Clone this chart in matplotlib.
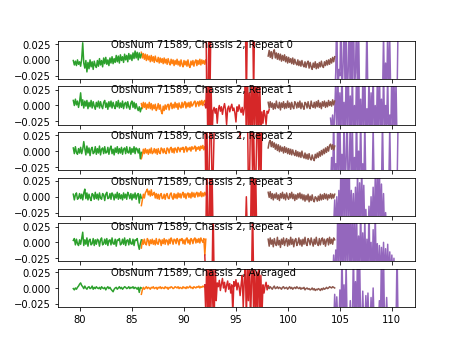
import numpy as np
import matplotlib
matplotlib.use("Agg")
import matplotlib.pyplot as plt

obsnum = 71589
chassis = 2
panel_labels = ["Repeat 0", "Repeat 1", "Repeat 2", "Repeat 3", "Repeat 4", "Averaged"]

# frequency range of each band (GHz)
band_ranges = {
    "green": (79.35, 85.9),
    "orange": (85.9, 92.1),
    "red": (92.0, 98.2),
    "brown": (98.1, 104.5),
    "purple": (104.1, 110.6),
}
band_colors = {"orange": "C1", "green": "C2", "red": "C3", "purple": "C4", "brown": "C5"}
plot_order = ["orange", "green", "red", "purple", "brown"]

# spectra values, in units of 0.001 (K)
green = [
    [-1,-8,-2,-9,0,-7,-3,-10,1,27,-5,-13,-1,-19,-4,-14,0,-11,-3,-15,-2,-9,-12,-1,-10,2,-8,-1,-11,3,-6,4,-7,0,-9,3,-5,5,-6,2,
     -4,7,-3,6,-5,8,-1,5,-4,9,0,7,-3,10,1,8,-1,11,2,14,3,12,0,11,3,9],
    [8,0,10,1,7,-3,6,20,0,9,-4,7,-1,8,-5,5,-2,8,-4,6,-1,-6,5,-2,7,-4,6,-1,-5,5,8,-3,4,-6,6,-2,7,-4,5,-1,
     -5,6,-2,8,-4,4,-3,7,-5,3,5,-4,6,-2,-6,4,7,-3,5,-5,3,-4,-8,-2,-10,-4],
    [5,-4,7,-2,-5,4,-3,6,-4,3,15,4,-6,8,-3,5,-7,3,6,-4,-2,7,-5,4,-3,8,-6,3,5,-4,7,-3,-2,6,-5,4,8,-4,3,-6,
     5,-2,7,-4,4,-3,6,-5,3,5,-4,7,-2,-3,6,-5,4,-2,7,-4,5,3,-3,4,-12,-2],
    [4,-5,3,6,-4,-2,5,-3,4,-5,6,12,-3,6,-5,4,-2,-6,5,3,-4,7,-3,4,-5,6,-2,-4,5,3,-6,4,7,-3,-2,5,-4,6,3,-5,
     4,-2,7,-4,5,-3,3,-5,6,-2,4,-4,7,3,-3,5,-5,4,-2,6,-4,3,5,-10,4,-2],
    [3,6,-4,5,-2,-5,4,-3,6,16,-5,4,-3,7,-6,3,5,-4,-2,6,-5,4,-3,5,3,-6,4,7,-4,-2,5,-3,6,-5,3,4,-4,7,-2,-3,
     5,-6,4,3,6,-4,-2,5,-3,7,-5,3,4,-4,6,-2,-3,5,-5,4,3,6,-4,-11,-2,4],
    [-1,-3,0,-2,1,3,6,8,4,2,-1,3,0,-2,1,2,-1,0,3,-2,1,-1,2,0,-1,1,-2,2,0,-1,1,-3,0,2,-1,1,-2,-4,-6,-2,
     0,1,-2,0,2,-1,1,-2,0,2,1,-1,0,2,-1,1,0,2,-1,1,0,-2,1,-7,1,0],
]
orange = [
    [12,3,10,1,9,-1,8,0,6,-3,7,-2,5,-4,6,-1,-3,4,-5,3,-4,2,-6,3,-5,1,-7,2,-4,-8,1,-6,0,-9,-1,-7,1,-8,-2,-10,
     0,-7,-11,-1,-8,-2,-10,0,-9,-12,-2,-8,-1,-10,-3,0,-9,-1,-7,1,-8,0,-6,-1,-7,0],
    [3,-5,5,-3,4,-6,2,-4,5,-5,3,-7,1,-5,2,-8,-4,3,-6,1,-9,-13,-1,-8,1,-6,0,2,-7,1,4,-5,2,-4,5,-3,3,-6,4,-2,
     -4,5,-3,3,6,-4,4,-2,5,-3,6,-1,1,5,7,-2,4,6,-1,7,1,8,0,6,8,2],
    [-12,-6,3,-4,4,-3,2,-5,3,-3,5,-4,-2,4,-3,3,-5,4,-2,-4,5,3,-3,4,-2,-4,5,3,-3,4,6,-2,4,-3,5,3,-2,6,4,-1,
     5,3,6,-2,4,7,-1,5,2,6,0,7,3,5,8,0,6,3,7,1,8,4,9,2,7,5],
    [-14,-5,4,-2,6,9,12,3,9,1,11,2,4,7,-2,5,-3,4,-4,3,5,-3,-2,4,-4,3,5,-2,-3,4,6,-1,-4,5,-2,4,-3,6,-1,5,
     -2,4,7,-1,5,-3,4,6,-1,5,-2,7,0,6,-1,5,7,0,6,1,8,0,6,1,7,3],
    [-9,4,-3,5,-2,-4,6,3,-5,4,-2,5,-3,3,-4,6,-2,-3,5,3,-5,4,-2,6,-3,4,3,-4,5,-2,7,3,-3,5,4,-2,6,3,-4,5,
     3,6,-2,4,-3,5,7,-1,4,-3,6,4,-2,5,7,-1,5,0,6,-1,7,3,0,6,-20,5],
    [-10,-3,1,-2,0,2,-1,1,0,-2,1,0,2,-1,0,1,-2,1,0,2,-1,1,0,-1,2,0,1,-2,1,0,2,1,-1,0,2,1,0,2,-1,1,
     0,-1,2,0,1,-1,2,0,1,3,0,1,-1,2,1,0,2,1,3,0,2,1,3,2,1,2],
]
red = [
    [70,80,-70,-80,60,-60,70,
     80,80,80,80,80,80,80,80,80,80,80,80,80,80,80,80,80,80,80,80,80,80,80,80,80,80,80,80,80,80,80,80,80,
     -70,60,80,80,80,80,80,-60,70,
     80,80,80,80,80,80,80,80,80,80,80,80,80,80],
    [2,-4,60,-70,50,-60,40,-50,-8,-3,-12,-5,-28,-6,0,-9,-2,-14,-4,3,-7,-30,-5,-1,-10,-3,2,-8,-4,-12,-26,-2,-9,1,-6,-11,-3,-15,-5,
     50,-60,70,-40,20,-50,60,-70,45,-30,55,-60,40,-45,30,-50,-10,-28,-8,-15,-30,-9,-12,-6],
    [60,-60,50,-70,-50,40,70,-60,-40,30,80,
     70,70,70,70,70,70,70,70,70,70,70,70,70,70,70,70,70,70,70,70,70,70,70,
     20,70,70,70,70,70,70,70,
     -60,-50,50,60,-40,40,-50,-60,30,60,-40,50,-60,60,
     70,70,70,70,70,70,70],
    [-60,-60,60,-60,-50,50,-60,40,-60,
     -60,-60,-60,-60,-60,-60,-60,-60,-60,-60,-60,-60,-60,-60,-60,-60,-60,-60,-60,-60,-60,-60,-60,-60,-60,-60,-60,-60,-60,-60,-60,
     0,-60,-60,-60,-60,60,-60,50,-50,40,-60,
     -60,-60,-60,-60,-60,-60,-60,-60,-60,-60,-60,-60],
    [-20,-60,-60,-60,-60,-60,-60,-60,60,
     -60,-60,-60,-60,-60,-60,-60,-60,-60,-60,-60,-60,-60,-60,-60,-60,-60,-60,-60,-60,-60,-60,-60,-60,-60,-60,-60,-60,-60,-60,-60,-60,-60,-60,-60,-60,-60,
     60,-60,-60,-60,-60,-60,-60,-60,-60,-60,-60,-60,-60,-60,-60,-60,-60],
    [5,-40,60,-60,40,-50,50,-30,30,-60,45,-20,8,2,12,-4,6,15,0,9,-6,4,11,-2,7,-8,5,-40,10,3,13,-3,8,2,-12,6,20,-30,12,40,
     -50,30,-20,60,-60,10,50,-40,40,-60,25,-35,60,-50,20,-45,5,-8,3,9,-3,4,1],
]
brown = [
    [6,15,4,13,2,12,16,3,11,1,10,0,9,-2,7,-1,8,-3,5,-5,4,-4,2,-6,3,-7,1,-5,-8,0,-9,-2,-10,-1,-8,-11,-3,-12,-5,-2,
     -13,-4,-11,-15,-5,-12,-3,-14,-6,-13,-4,-11,-2,-10,-12,-3,-9,-1,-8,0,-7,2,-5,4,-3,5],
    [5,-4,6,-3,4,-6,3,-5,7,-2,-4,5,-7,4,-3,6,-5,3,-4,7,-3,4,-6,5,-2,-5,6,3,-4,5,-3,7,-5,4,-2,-6,5,3,-4,6,
     -2,-5,7,-1,-3,5,-4,6,-2,8,-3,4,-5,6,-1,7,-3,5,-2,8,0,6,-1,9,1,7],
    [5,14,17,7,15,6,13,3,11,1,10,-1,8,0,6,-3,7,-2,5,-4,4,-5,3,-6,2,-4,-7,1,-8,-1,-9,-2,-10,0,-8,-11,-3,-12,-5,-13,
     -4,-11,-14,-6,-12,-15,-5,-11,-3,-10,-1,-8,1,-6,3,-4,5,-2,7,0,9,11,3,10,2,8],
    [7,-1,8,-3,5,-5,4,-2,6,-4,3,-6,5,-2,7,-3,4,-5,6,-1,-4,5,-2,7,-3,4,-6,3,-4,5,-2,6,-3,4,-5,3,-7,2,-5,4,
     -8,1,-6,3,-5,-8,0,-2,-7,1,-6,4,-5,3,-4,5,-3,4,-5,3,-2,5,-3,4,-2,4],
    [5,-6,7,-3,4,-7,6,-2,-5,8,-4,3,-8,5,-3,7,-5,2,6,-6,4,-4,8,-3,5,-7,3,6,-5,-1,7,-4,4,-6,5,-3,8,-2,-5,6,
     3,-4,7,0,-6,5,-3,8,-2,-5,6,-4,4,7,-3,5,-6,3,6,-4,8,-2,5,-3,7,4],
    [1,-1,2,0,-2,1,3,-1,0,2,-1,1,0,-2,1,2,-1,0,1,-2,0,2,-1,1,-2,0,1,-1,2,0,-1,1,-2,0,-1,1,-3,-1,0,-2,
     -1,-3,-2,0,-3,-1,-4,-2,-3,-1,-2,-4,-1,-3,0,-2,-1,1,-1,0,2,1,0,2,1,0],
]
purple = [
    [-60,-60,-60,-60,
     -60,-20,80,-80,-15,-25,70,-70,-12,60,-50,50,-60,-18,80,-90,60,-50,90,-40,-20,70,-80,50,-60,-40,-50,-35,-60,-45,-50,60,-70,
     -60,-60,-60,-60,-60,-60,-60,-60,-60,-60,-60,-60,-60,-60,
     40,-60,-5,-60,50,-50,30,
     -60,-60,-60,-60,-60,-60,-60,60],
    [-20,-40,-15,-50,-10,40,-60,60,-40,20,-60,70,-50,5,-60,60,-40,80,-70,15,-50,60,-60,0,-40,50,-60,70,-50,10,-60,40,-40,60,-70,-5,
     -50,50,-60,20,-40,60,-60,0,-50,40,-60,70,-50,10,-60,60,-40,0,-30,50,-60,-15,-40,60,-60,50,-50,40,-60,-40],
    [-60,-10,-60,60,-50,-20,-60,70,-60,50,-40,-5,-60,60,-60,-15,60,-70,-25,50,-60,40,-50,-10,-60,70,-60,0,-50,60,-60,-20,-60,50,-60,-40,
     -60,-60,-60,-60,-60,40,-60,-60,-60,-60,-60,-60,-60,-60,50,-60,-60,-60,-60,-60,-60,40,-60,-60,-60,-60,-60,-60,-60,50],
    [-60,-60,-60,-45,-5,-60,0,-50,10,-60,60,-60,70,-50,80,-60,60,-40,50,-60,10,-50,5,-60,15,-50,40,-60,22,-60,50,-50,18,-60,-20,-60,
     -60,-15,-60,0,-50,15,-60,30,-50,60,-60,50,-50,20,-60,5,-60,-25,-60,-60,-60,-60,-60,-60,-60,-60,-60,-60,-60,-60],
    [-60,-60,-60,-20,-60,-12,-50,60,-60,70,-50,50,-60,80,-60,60,-40,70,-60,50,-60,60,-50,40,-60,60,-60,10,-50,60,-60,15,-50,40,-60,5,
     -60,60,-50,0,-60,20,-60,50,-50,-2,-60,-5,-60,-8,-50,0,-60,-10,-60,-3,-60,-15,-60,-20,-60,-25,-60,-60,-60,-60],
    [-60,-60,-60,-60,-10,-60,-14,-50,-60,-3,-60,60,-50,5,-60,40,-60,-60,-60,-20,-60,-60,60,-50,10,-60,70,-60,50,-60,-60,-5,-60,-60,-12,-60,
     -8,-60,-60,-15,-60,0,-60,-60,-60,-60,-60,-20,-60,60,-60,50,-60,-60,-15,-60,-60,-60,-60,-60,-60,-60,-60,-60,60,-60],
]
series = {"green": green, "orange": orange, "red": red, "brown": brown, "purple": purple}

fig, axes = plt.subplots(6, 1, sharex=True, figsize=(6.4, 4.8))
for k, ax in enumerate(axes):
    for band in plot_order:
        vals = np.array(series[band][k], dtype=float) * 1e-3
        lo, hi = band_ranges[band]
        x = np.linspace(lo, hi, len(vals))
        ax.plot(x, vals, color=band_colors[band])
    ax.set_ylim(-0.03, 0.03)
    ax.set_yticks([-0.025, 0.0, 0.025])
    ax.text(83, 0.02, f"ObsNum {obsnum}, Chassis {chassis}, {panel_labels[k]}")
axes[-1].set_xlim(77.84, 112.2)
axes[-1].set_xticks([80, 85, 90, 95, 100, 105, 110])

fig.savefig("out.png", dpi=72)
